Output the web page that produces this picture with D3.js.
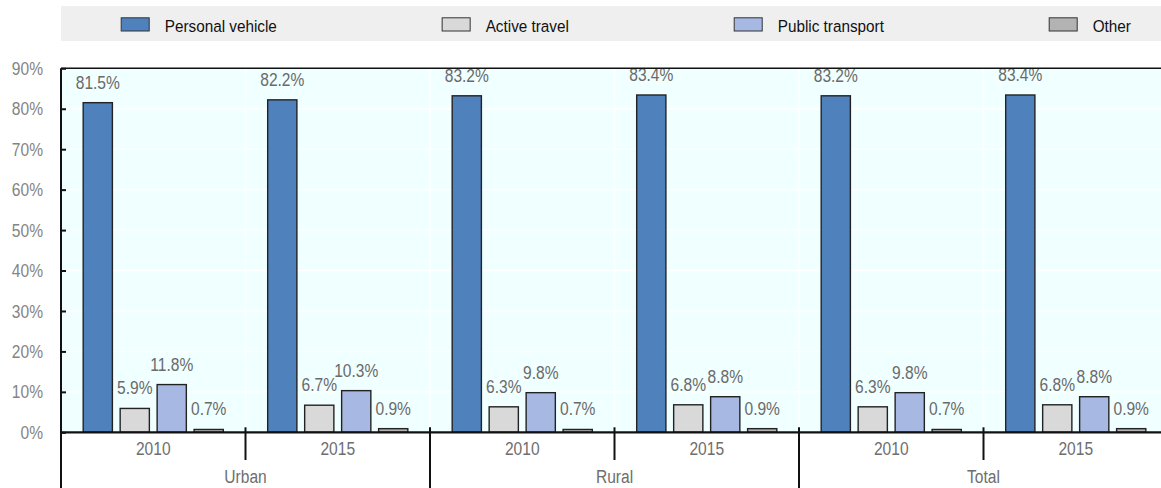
<!DOCTYPE html>
<html>
<head>
<meta charset="utf-8">
<script src="https://cdn.jsdelivr.net/npm/d3@7"></script>
<style>
  html, body { margin: 0; padding: 0; background: #ffffff; }
  svg { display: block; }
  text { font-family: "Liberation Sans", Arial, sans-serif; }
</style>
</head>
<body>
<svg id="chart" width="1161" height="488"></svg>
<script>
// Mode share of trips by area and year (%)
const areas = ["Urban", "Rural", "Total"];
const years = ["2010", "2015"];
const seriesNames = ["Personal vehicle", "Active travel", "Public transport", "Other"];
const personalVehicle = [81.5, 82.2, 83.2, 83.4, 83.2, 83.4];
const activeTravel    = [5.9, 6.7, 6.3, 6.8, 6.3, 6.8];
const publicTransport = [11.8, 10.3, 9.8, 8.8, 9.8, 8.8];
const other           = [0.7, 0.9, 0.7, 0.9, 0.7, 0.9];
const yTicks = [0, 10, 20, 30, 40, 50, 60, 70, 80, 90];

const seriesValues = [personalVehicle, activeTravel, publicTransport, other];
const colors = ["#4f81bd", "#d9d9d9", "#a7b9e3", "#b3b3b3"];

// one slot per area/year pair
const slots = [];
areas.forEach(a => years.forEach(yr => slots.push({ area: a, year: yr, key: a + "|" + yr })));

const W = 1161, H = 488;
const left = 61, plotRight = 1168;
const NARROW = 0.82; // condensed look for the chart's labels
const svg = d3.select("#chart");

const y = d3.scaleLinear().domain([0, 90]).range([432.3, 68.3]);
const x0 = d3.scaleBand().domain(slots.map(s => s.key)).range([left, plotRight]).padding(0);
const x1 = d3.scaleBand().domain(seriesNames).range([0, x0.bandwidth()])
  .paddingInner(0.21).paddingOuter(0.6);

// place a horizontally condensed text at (x, y)
function narrowText(sel, x, yy, sx) {
  return sel.attr("transform", d => `translate(${typeof x === "function" ? x(d) : x},${typeof yy === "function" ? yy(d) : yy}) scale(${sx},1)`);
}

// legend strip
svg.append("rect").attr("x", left).attr("y", 6).attr("width", W - left).attr("height", 35)
  .attr("fill", "#efefef");
const leg = svg.append("g");
let lx = 120.7;
seriesNames.forEach((name, i) => {
  const g = leg.append("g").attr("transform", `translate(${lx},0)`);
  g.append("rect").attr("x", 0.5).attr("y", 17.8).attr("width", 28).attr("height", 13.2)
    .attr("fill", colors[i]).attr("stroke", "#333").attr("stroke-width", 1);
  const t = g.append("text").attr("transform", "translate(44,32) scale(0.9,1)")
    .attr("font-size", 17).attr("fill", "#111").text(name);
  lx += 44 + t.node().getComputedTextLength() * 0.9 + 164.8;
});

// plot background
svg.append("rect").attr("x", left).attr("y", y(90)).attr("width", W - left)
  .attr("height", y(0) - y(90)).attr("fill", "#f0ffff");

// white gridlines
svg.append("g").selectAll("line").data(yTicks.filter(t => t > 0 && t < 90)).join("line")
  .attr("x1", left).attr("x2", W).attr("y1", d => y(d)).attr("y2", d => y(d))
  .attr("stroke", "#ffffff").attr("stroke-width", 1.5);
svg.append("g").selectAll("line").data(slots.slice(1)).join("line")
  .attr("x1", d => x0(d.key)).attr("x2", d => x0(d.key))
  .attr("y1", y(90)).attr("y2", y(0))
  .attr("stroke", "#ffffff").attr("stroke-width", 1.5);

// bars
const barData = [];
slots.forEach((s, j) => seriesNames.forEach((n, i) =>
  barData.push({ slot: s.key, name: n, i, v: seriesValues[i][j] })));

svg.append("g").selectAll("rect").data(barData).join("rect")
  .attr("x", d => x0(d.slot) + x1(d.name))
  .attr("y", d => y(d.v))
  .attr("width", x1.bandwidth())
  .attr("height", d => y(0) - y(d.v))
  .attr("fill", d => colors[d.i])
  .attr("stroke", "#222").attr("stroke-width", 1.4);

// value labels
narrowText(
  svg.append("g").selectAll("text").data(barData).join("text"),
  d => x0(d.slot) + x1(d.name) + x1.bandwidth() / 2,
  d => y(d.v) - 14, NARROW)
  .attr("text-anchor", "middle").attr("font-size", 19).attr("fill", "#6a6a6a")
  .text(d => d.v.toFixed(1) + "%");

// top border
svg.append("line").attr("x1", left).attr("x2", W).attr("y1", y(90)).attr("y2", y(90))
  .attr("stroke", "#111").attr("stroke-width", 1.5);

// y axis
const yAxis = d3.axisLeft(y).tickValues(yTicks).tickSizeInner(-5).tickSizeOuter(0)
  .tickPadding(18).tickFormat(d => d + "%");
const ya = svg.append("g").attr("transform", `translate(${left},0)`).call(yAxis);
ya.select(".domain").remove();
ya.selectAll(".tick line").attr("stroke", "#111").attr("stroke-width", 2);
ya.selectAll(".tick text")
  .attr("x", null)
  .attr("transform", `translate(-18,0) scale(${NARROW},1)`)
  .attr("font-size", 19).attr("font-family", null).attr("fill", "#848484");

// x axis line
svg.append("line").attr("x1", left).attr("x2", W).attr("y1", y(0)).attr("y2", y(0))
  .attr("stroke", "#111").attr("stroke-width", 2.2);
// left axis line
svg.append("line").attr("x1", left).attr("x2", left).attr("y1", y(90)).attr("y2", H)
  .attr("stroke", "#111").attr("stroke-width", 2);

// category separators
slots.slice(1).forEach(s => {
  const outer = s.year === years[0];
  svg.append("line").attr("x1", x0(s.key)).attr("x2", x0(s.key))
    .attr("y1", y(0) - 5).attr("y2", outer ? H : 460)
    .attr("stroke", "#111").attr("stroke-width", 2);
});

// year labels
narrowText(
  svg.append("g").selectAll("text").data(slots).join("text"),
  d => x0(d.key) + x0.bandwidth() / 2, 455, NARROW)
  .attr("text-anchor", "middle").attr("font-size", 19).attr("fill", "#6e6e6e")
  .text(d => d.year);

// area labels
narrowText(
  svg.append("g").selectAll("text").data(areas).join("text"),
  a => x0(a + "|" + years[0]) + x0.bandwidth(), 483, NARROW)
  .attr("text-anchor", "middle").attr("font-size", 19).attr("fill", "#6e6e6e")
  .text(a => a);
</script>
</body>
</html>
